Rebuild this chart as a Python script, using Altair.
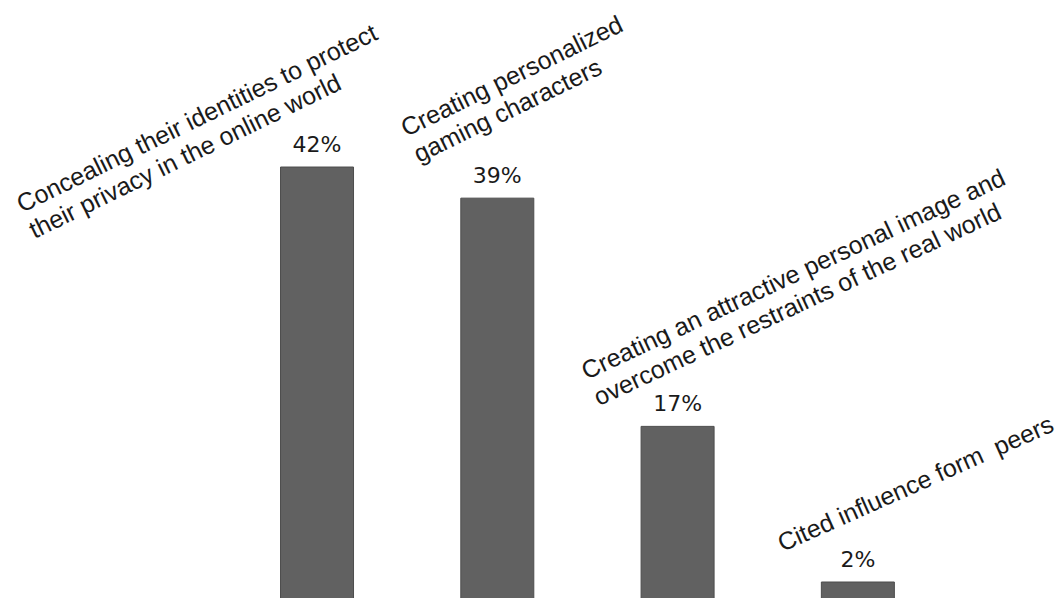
import altair as alt
import pandas as pd

# Data
positions = [1, 2, 3, 4]
values = [42, 39, 17, 2]
pct_labels = ["42%", "39%", "17%", "2%"]
categories = [
    "Concealing their identities to protect\ntheir privacy in the online world",
    "Creating personalized\ngaming characters",
    "Creating an attractive personal image and\novercome the restraints of the real world",
    "Cited influence form\u00a0 peers",
]
# annotation anchors (data units) and tilt for the rotated category captions
label_x = [-0.637, 1.495, 2.495, 3.582]
label_y = [37.57, 44.89, 21.47, 4.89]
label_angle = [334, 334, 335, 336]

df = pd.DataFrame({"pos": positions, "value": values, "pct": pct_labels})
lab = pd.DataFrame({"lx": label_x, "ly": label_y, "cat": categories, "ang": label_angle})

xs = alt.Scale(domain=[-0.73077, 5.08791], nice=False, zero=False)
ys = alt.Scale(domain=[0.458, 58.1], nice=False, zero=False)

bars = alt.Chart(df).mark_bar(size=73, color="#616161", stroke="#4d4d4d", strokeWidth=1, clip=True).encode(
    x=alt.X("pos:Q", scale=xs, axis=None),
    y=alt.Y("value:Q", scale=ys, axis=None),
    y2=alt.datum(0),
)

pct = alt.Chart(df).mark_text(
    font="DejaVu Sans", fontSize=22, color="#1a1a1a", baseline="alphabetic", align="center", dy=-15
).encode(
    x=alt.X("pos:Q", scale=xs, axis=None),
    y=alt.Y("value:Q", scale=ys, axis=None),
    text="pct:N",
)

caps = alt.Chart(lab).mark_text(
    font="Liberation Sans", fontSize=25, color="#1a1a1a", baseline="alphabetic", align="left",
    lineBreak="\n", lineHeight=29
).encode(
    x=alt.X("lx:Q", scale=xs, axis=None),
    y=alt.Y("ly:Q", scale=ys, axis=None),
    angle=alt.Angle("ang:Q", scale=None),
    text="cat:N",
)

chart = alt.layer(bars, pct, caps).properties(
    width=1059, height=598,
    autosize=alt.AutoSizeParams(type="none"),
    padding=0,
    background="white",
).configure_view(stroke=None)

chart.save("out.html", embed_options={"renderer": "svg", "actions": False})
